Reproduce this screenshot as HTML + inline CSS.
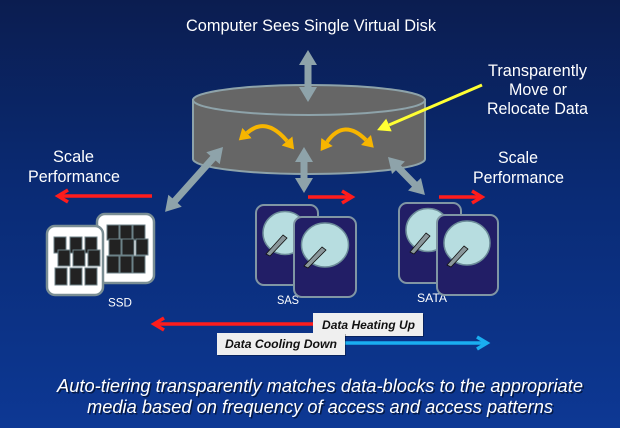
<!DOCTYPE html>
<html><head><meta charset="utf-8"><style>
html,body{margin:0;padding:0;background:#0b2a72;}
svg{display:block}
text{font-family:"Liberation Sans",Arial,sans-serif;}
</style></head><body>
<svg width="620" height="428" viewBox="0 0 620 428" xmlns="http://www.w3.org/2000/svg">
<defs>
<linearGradient id="bg" x1="0" y1="0" x2="0" y2="1">
<stop offset="0" stop-color="#0b1d50"/>
<stop offset="0.45" stop-color="#0a2b75"/>
<stop offset="1" stop-color="#0d3894"/>
</linearGradient>
<marker id="oh" markerUnits="userSpaceOnUse" markerWidth="12" markerHeight="14" refX="0" refY="7" orient="auto-start-reverse" viewBox="0 0 12 14">
<path d="M0,0 L11,7 L0,14 z" fill="#f7b500"/>
</marker>
<marker id="yh" markerUnits="userSpaceOnUse" markerWidth="14" markerHeight="14" refX="0" refY="7" orient="auto" viewBox="0 0 14 14">
<path d="M0,0 L13,7 L0,14 z" fill="#ffff33"/>
</marker>
</defs>
<rect x="0" y="0" width="620" height="428" fill="url(#bg)"/>

<!-- title -->
<text x="186" y="31" font-size="17" fill="#fff" textLength="250" lengthAdjust="spacingAndGlyphs">Computer Sees Single Virtual Disk</text>

<!-- right top text -->
<g fill="#fff" font-size="17">
<text x="488" y="76" textLength="99" lengthAdjust="spacingAndGlyphs">Transparently</text>
<text x="509" y="95" textLength="58" lengthAdjust="spacingAndGlyphs">Move or</text>
<text x="487" y="114" textLength="101" lengthAdjust="spacingAndGlyphs">Relocate Data</text>
<text x="53" y="162" textLength="41" lengthAdjust="spacingAndGlyphs">Scale</text>
<text x="28" y="182" textLength="92" lengthAdjust="spacingAndGlyphs">Performance</text>
<text x="498" y="163" textLength="40" lengthAdjust="spacingAndGlyphs">Scale</text>
<text x="473" y="183" textLength="91" lengthAdjust="spacingAndGlyphs">Performance</text>
</g>

<!-- cylinder -->
<path d="M193,100 L193,159 A116,15 0 0 0 425,159 L425,100 Z" fill="#666666" stroke="#8ea3aa" stroke-width="2"/>
<ellipse cx="309" cy="100" rx="116" ry="15" fill="#666666" stroke="#8ea3aa" stroke-width="2"/>

<!-- gray double arrows -->
<g fill="#8ea3aa">
<!-- top vertical -->
<g transform="translate(308,50) rotate(90)">
<polygon points="0,0 15,-9 15,-3.5 37,-3.5 37,-9 52,0 37,9 37,3.5 15,3.5 15,9"/>
</g>
<!-- middle vertical -->
<g transform="translate(304,147) rotate(90)">
<polygon points="0,0 15,-9 15,-3.5 31,-3.5 31,-9 46,0 31,9 31,3.5 15,3.5 15,9"/>
</g>
<!-- left diagonal -->
<g transform="translate(223,147) rotate(131.75)">
<polygon points="0,0 15,-9 15,-3.5 72,-3.5 72,-9 87,0 72,9 72,3.5 15,3.5 15,9"/>
</g>
<!-- right diagonal -->
<g transform="translate(388,157) rotate(45.8)">
<polygon points="0,0 15,-9 15,-3.5 38,-3.5 38,-9 53,0 38,9 38,3.5 15,3.5 15,9"/>
</g>
</g>

<!-- orange arcs -->
<path d="M247,133 Q266,116 287,141" fill="none" stroke="#f7b500" stroke-width="4" marker-start="url(#oh)" marker-end="url(#oh)"/>
<path d="M327,142 Q344,118 366,140" fill="none" stroke="#f7b500" stroke-width="4" marker-start="url(#oh)" marker-end="url(#oh)"/>

<!-- yellow arrow -->
<line x1="482" y1="85" x2="389" y2="125" stroke="#ffff33" stroke-width="3" marker-end="url(#yh)"/>

<!-- red scale arrows -->
<g stroke="#ff1c1c" stroke-width="3.5" fill="none" stroke-linejoin="miter">
<line x1="152" y1="196" x2="59" y2="196"/>
<path d="M68,190 L58,196 L68,202"/>
<line x1="308" y1="197" x2="351" y2="197"/>
<path d="M342,191 L352,197 L342,203"/>
<line x1="439" y1="197" x2="481" y2="197"/>
<path d="M472,191 L482,197 L472,203"/>
</g>

<!-- labels behind devices -->
<g fill="#fff" font-size="12">
<text x="108" y="306.5" textLength="24" lengthAdjust="spacingAndGlyphs">SSD</text>
<text x="277" y="304" textLength="22" lengthAdjust="spacingAndGlyphs">SAS</text>
<text x="417" y="302" textLength="30" lengthAdjust="spacingAndGlyphs">SATA</text>
</g>

<!-- SSD cards -->
<g>
<rect x="97" y="214" width="57" height="69" rx="8" fill="#ffffff" stroke="#7a8e94" stroke-width="2.5"/>
<g fill="#222" stroke="#6c8288" stroke-width="1">
<rect x="107" y="225" width="12" height="15"/><rect x="120" y="225" width="12" height="15"/><rect x="133" y="225" width="12" height="15"/>
<rect x="109" y="239" width="12" height="16"/><rect x="122" y="239" width="12" height="16"/><rect x="136" y="239" width="12" height="16"/>
<rect x="107" y="256" width="12" height="17"/><rect x="120" y="256" width="12" height="17"/><rect x="133" y="256" width="12" height="17"/>
</g>
<rect x="47" y="226" width="56" height="69" rx="8" fill="#ffffff" stroke="#7a8e94" stroke-width="2.5"/>
<g fill="#222" stroke="#6c8288" stroke-width="1">
<rect x="54" y="237" width="12" height="16"/><rect x="70" y="237" width="12" height="16"/><rect x="85" y="237" width="12" height="16"/>
<rect x="58" y="250" width="12" height="16"/><rect x="73" y="250" width="12" height="16"/><rect x="88" y="250" width="12" height="16"/>
<rect x="55" y="268" width="12" height="17"/><rect x="70" y="268" width="12" height="17"/><rect x="85" y="268" width="12" height="17"/>
</g>
</g>

<!-- drives -->
<g stroke="#8096a4" stroke-width="2">
<rect x="256" y="205" width="62" height="80" rx="8" fill="#221e66"/>
<ellipse cx="285" cy="233" rx="22" ry="21.5" fill="#b7dde0" stroke="#6c8c99" stroke-width="1.5"/>
<polygon points="283,235 287,238 270,256 266,254" fill="#8a979b" stroke="#111" stroke-width="0.8"/>
<rect x="294" y="217" width="62" height="80" rx="8" fill="#221e66"/>
<ellipse cx="325" cy="245" rx="23.5" ry="22" fill="#b7dde0" stroke="#6c8c99" stroke-width="1.5"/>
<polygon points="322,247 326,250 308,268 304,266" fill="#8a979b" stroke="#111" stroke-width="0.8"/>

<rect x="399" y="203" width="62" height="80" rx="8" fill="#221e66"/>
<ellipse cx="428" cy="230" rx="22" ry="21.5" fill="#b7dde0" stroke="#6c8c99" stroke-width="1.5"/>
<polygon points="426,233 430,236 414,254 410,252" fill="#8a979b" stroke="#111" stroke-width="0.8"/>
<rect x="437" y="215" width="61" height="80" rx="8" fill="#221e66"/>
<ellipse cx="467" cy="243" rx="23" ry="22" fill="#b7dde0" stroke="#6c8c99" stroke-width="1.5"/>
<polygon points="464,246 468,249 451,267 447,265" fill="#8a979b" stroke="#111" stroke-width="0.8"/>
</g>

<!-- data heating / cooling -->
<g stroke-width="3.5" fill="none">
<line x1="313" y1="324" x2="155" y2="324" stroke="#ff1c1c"/>
<path d="M164,318 L154,324 L164,330" stroke="#ff1c1c"/>
<line x1="345" y1="343" x2="486" y2="343" stroke="#1aaef0"/>
<path d="M477,337 L487,343 L477,349" stroke="#1aaef0"/>
</g>
<rect x="314" y="314" width="110" height="23" fill="#000" opacity="0.3"/>
<rect x="313" y="313" width="110" height="23" fill="#efefef"/>
<text x="322" y="329" font-size="12" font-weight="bold" font-style="italic" fill="#111" textLength="93" lengthAdjust="spacingAndGlyphs">Data Heating Up</text>
<rect x="218" y="334" width="128" height="22" fill="#000" opacity="0.3"/>
<rect x="217" y="333" width="128" height="22" fill="#efefef"/>
<text x="225" y="348" font-size="12" font-weight="bold" font-style="italic" fill="#111" textLength="112" lengthAdjust="spacingAndGlyphs">Data Cooling Down</text>

<!-- bottom caption -->
<g font-size="18" font-style="italic">
<text x="58.5" y="393.5" fill="#000" opacity="0.55" textLength="526" lengthAdjust="spacingAndGlyphs">Auto-tiering transparently matches data-blocks to the appropriate</text>
<text x="88.5" y="414.5" fill="#000" opacity="0.55" textLength="466" lengthAdjust="spacingAndGlyphs">media based on frequency of access and access patterns</text>
<text x="57" y="392" fill="#fff" textLength="526" lengthAdjust="spacingAndGlyphs">Auto-tiering transparently matches data-blocks to the appropriate</text>
<text x="87" y="413" fill="#fff" textLength="466" lengthAdjust="spacingAndGlyphs">media based on frequency of access and access patterns</text>
</g>
</svg>
</body></html>
